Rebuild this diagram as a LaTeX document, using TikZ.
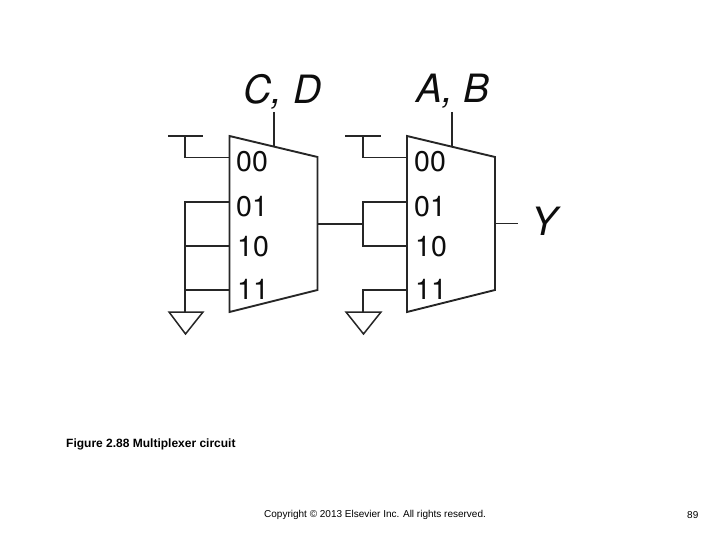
\documentclass[tikz,border=0pt]{standalone}
\usepackage{fontspec}
\setmainfont{Liberation Sans}
\newfontfamily\heros{TeX Gyre Heros}
\begin{document}
\begin{tikzpicture}[x=1pt,y=-1pt,
  wire/.style={draw=black!85,line width=1.5pt},
  muxbody/.style={draw=black!85,line width=1.9pt,line join=miter,fill=white},
  rail/.style={draw=black!85,line width=1.9pt},
  port/.style={inner sep=0pt,anchor=base west,font=\heros\fontsize{28.5}{28.5}\selectfont,text=black!95},
  sellabel/.style={inner sep=0pt,anchor=base west,font=\heros\fontsize{39}{39}\selectfont\itshape,text=black!95},
  foot/.style={inner sep=0pt,anchor=base west,text=black}]
\useasboundingbox (0,0) rectangle (720,540);
% first multiplexer
\coordinate (m1tl) at (229.5,136);
\coordinate (m1tr) at (317.5,157);
\coordinate (m1br) at (317.5,290);
\coordinate (m1bl) at (229.5,312);
\draw[muxbody] (m1tl) -- (m1tr) -- (m1br) -- (m1bl) -- cycle;
\coordinate (m1s) at (274,146.5);
\coordinate (m1st) at (274,112);
\draw[wire] (m1st) -- (m1s);
\coordinate (p1a) at (168,136);
\coordinate (p1b) at (203,136);
\coordinate (p1c) at (185,136);
\coordinate (i100) at (229.5,157.5);
\draw[wire] (p1a) -- (p1b);
\draw[wire] (p1c) |- (i100);
\coordinate (i101) at (229.5,202);
\coordinate (i110) at (229.5,246);
\coordinate (i111) at (229.5,290);
\coordinate (g1) at (185,312);
\draw[rail] (i101) -| (g1);
\draw[wire] (185,246) -- (i110);
\draw[wire] (185,290) -- (i111);
\coordinate (g1l) at (169,312);
\coordinate (g1r) at (203,312);
\coordinate (g1t) at (185.5,334);
\draw[wire,line join=miter] (g1l) -- (g1r) -- (g1t) -- cycle;
% second multiplexer
\coordinate (m2tl) at (407,136);
\coordinate (m2tr) at (495,157);
\coordinate (m2br) at (495,290);
\coordinate (m2bl) at (407,312);
\draw[muxbody] (m2tl) -- (m2tr) -- (m2br) -- (m2bl) -- cycle;
\coordinate (m2s) at (452,146.5);
\coordinate (m2st) at (452,112);
\draw[rail] (m2st) -- (m2s);
\coordinate (p2a) at (345,136);
\coordinate (p2b) at (381,136);
\coordinate (p2c) at (363,136);
\coordinate (i200) at (407,157.5);
\draw[wire] (p2a) -- (p2b);
\draw[wire] (p2c) |- (i200);
\coordinate (i201) at (407,202);
\coordinate (i210) at (407,246);
\coordinate (i211) at (407,290);
\coordinate (j) at (363,224);
\coordinate (m1o) at (317.5,224);
\draw[wire] (m1o) -- (j);
\draw[rail] (i201) -| (j);
\draw[wire] (j) |- (i210);
\coordinate (g2) at (363,312);
\draw[wire] (i211) -| (g2);
\coordinate (g2l) at (346,312);
\coordinate (g2r) at (381,312);
\coordinate (g2t) at (363.5,334);
\draw[wire,line join=miter] (g2l) -- (g2r) -- (g2t) -- cycle;
\coordinate (m2o) at (495,223.5);
\coordinate (yw) at (518,223.5);
\draw[wire] (m2o) -- (yw);
% port labels
\node[port] (a00) at (236,172) {00};
\node[port] (a01) at (236,217) {01};
\node[port] (a10) at (237,256) {10};
\node[port] (a11) at (237,299) {11};
\node[port] (b00) at (414,172) {00};
\node[port] (b01) at (414,217) {01};
\node[port] (b10) at (415,256) {10};
\node[port] (b11) at (415,299) {11};
% selects
\node[sellabel] (cd) at (243,104) {C, D};
\node[sellabel] (ab) at (416,103) {A, B};
\node[sellabel] (y) at (531,236) {Y};
% footer
\node[foot,font=\fontsize{12}{12}\selectfont\bfseries] (cap) at (66,447.5) {Figure 2.88 Multiplexer circuit};
\node[foot,font=\fontsize{10}{10}\selectfont] (copy) at (264,517) {Copyright © 2013 Elsevier Inc. All rights reserved.};
\node[foot,font=\fontsize{10}{10}\selectfont] (num) at (687,518.5) {89};
\end{tikzpicture}
\end{document}
